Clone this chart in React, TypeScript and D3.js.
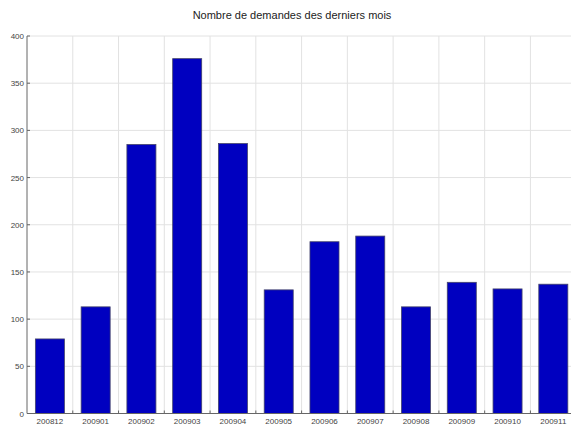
import React from "react";
import * as d3 from "d3";

const months = ["200812","200901","200902","200903","200904","200905","200906","200907","200908","200909","200910","200911"];
const counts = [79, 113, 285, 376, 286, 131, 182, 188, 113, 139, 132, 137];
const yTicks = [0, 50, 100, 150, 200, 250, 300, 350, 400];
const title = "Nombre de demandes des derniers mois";

const W = 571, H = 428;
const left = 27, right = 576.2, top = 36, bottom = 413.5;

export default function App() {
  const x = d3.scaleBand<string>().domain(months).range([left, right]).padding(0);
  const xb = d3.scaleBand<string>().domain(months).range([left, right]).paddingInner(0.366).paddingOuter(0.183);
  const y = d3.scaleLinear().domain([0, 400]).range([bottom, top]);
  const font = "'Liberation Sans', Arial, sans-serif";
  return (
    <svg width={W} height={H} style={{ position: "absolute", left: 0, top: 0, background: "#fff" }}>
      <text x={292} y={19} textAnchor="middle" fontFamily={font} fontSize={11} fill="#222">{title}</text>
      {yTicks.filter(t => t > 0).map(t => (
        <line key={"hg" + t} x1={left} x2={right} y1={y(t)} y2={y(t)} stroke="#e2e2e2" strokeWidth={1} />
      ))}
      {months.slice(1).map(m => (
        <line key={"vg" + m} x1={x(m)} x2={x(m)} y1={top} y2={bottom} stroke="#e2e2e2" strokeWidth={1} />
      ))}
      {months.map((m, i) => (
        <rect key={m} x={xb(m)} y={y(counts[i])} width={xb.bandwidth()} height={y(0) - y(counts[i])}
          fill="#0000c0" stroke="#44446a" strokeWidth={0.8} />
      ))}
      <line x1={left} x2={left} y1={top} y2={bottom} stroke="#666" strokeWidth={1} />
      <line x1={left} x2={right} y1={bottom} y2={bottom} stroke="#666" strokeWidth={1} />
      {yTicks.map(t => (
        <g key={"yt" + t}>
          <line x1={left} x2={left + 3} y1={y(t)} y2={y(t)} stroke="#666" />
          <text x={left - 3} y={y(t) + 3} textAnchor="end" fontFamily={font} fontSize={8} fill="#444">{t}</text>
        </g>
      ))}
      {months.slice(1).map(m => (
        <line key={"xt" + m} x1={x(m)} x2={x(m)} y1={bottom} y2={bottom - 3} stroke="#666" />
      ))}
      {months.map(m => (
        <text key={"xl" + m} x={(x(m) as number) + x.bandwidth() / 2} y={bottom + 10} textAnchor="middle"
          fontFamily={font} fontSize={8} fill="#444">{m}</text>
      ))}
    </svg>
  );
}
